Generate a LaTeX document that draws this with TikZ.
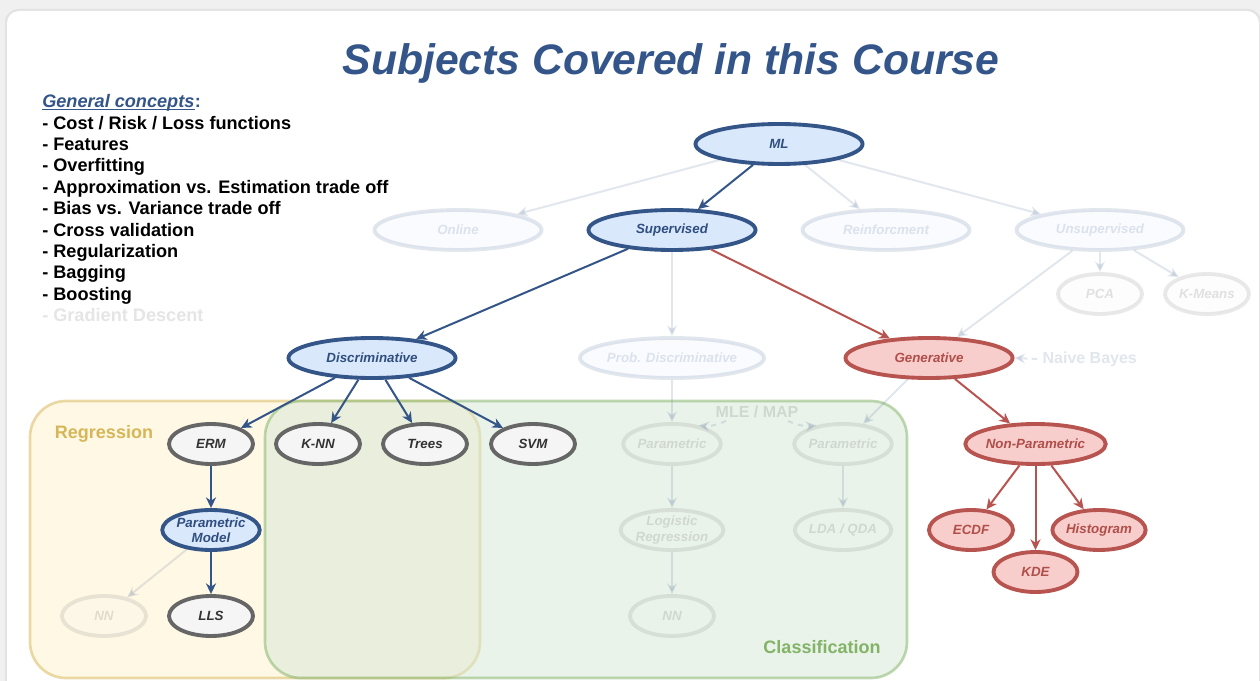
\documentclass[tikz,border=0pt]{standalone}
\usepackage{fontspec}
\setmainfont{Liberation Sans}
\usetikzlibrary{shapes.geometric,arrows.meta}
\definecolor{bstroke}{HTML}{345587}
\definecolor{bfill}{HTML}{DAE8FC}
\definecolor{btext}{HTML}{2F4F80}
\definecolor{rstroke}{HTML}{B85450}
\definecolor{rfill}{HTML}{F8CECC}
\definecolor{rtext}{HTML}{B04E4A}
\definecolor{gstroke}{HTML}{666666}
\definecolor{gfill}{HTML}{F5F5F5}
\definecolor{gtext}{HTML}{333333}
\definecolor{titleblue}{HTML}{335589}
\definecolor{yfill}{HTML}{FFF2CC}
\definecolor{ystroke}{HTML}{D6B656}
\definecolor{grfill}{HTML}{D5E8D4}
\definecolor{grstroke}{HTML}{82B366}
\definecolor{canvasgray}{HTML}{F0F0F0}
\definecolor{shadowgray}{HTML}{E2E2E2}
\tikzset{
  nd/.style={ellipse, inner sep=0pt, line width=2.9pt, align=center,
    font=\fontsize{10}{11.4}\selectfont\bfseries\itshape, minimum height=30pt},
  wide/.style={minimum width=125.3pt},
  narrow/.style={minimum width=63pt},
  bnode/.style={nd, draw=bstroke, fill=bfill, text=btext},
  rnode/.style={nd, draw=rstroke, fill=rfill, text=rtext},
  gnode/.style={nd, draw=gstroke, fill=gfill, text=gtext},
  faded/.style={opacity=0.14},
  tip/.style={-{Stealth[length=8pt,width=7.5pt,inset=2.5pt]}},
  bedge/.style={draw=bstroke, line width=1.5pt, tip},
  redge/.style={draw=rstroke, line width=1.5pt, tip},
  fedge/.style={draw=bstroke, line width=1.5pt, tip, opacity=0.14},
  listline/.style={anchor=base west, inner sep=0pt, font=\fontsize{13.6}{16}\selectfont\bfseries},
  region/.style={line width=2pt, rounded corners=27pt, fill opacity=0.5, draw opacity=0.5},
  reglabel/.style={inner sep=0pt, font=\fontsize{13.5}{16}\selectfont\bfseries}
}
\begin{document}
\begin{tikzpicture}[x=0.75pt,y=-0.75pt]
\useasboundingbox (0,0) rectangle (1260,681);
% canvas and card
\fill[canvasgray] (0,0) rectangle (1260,681);
\fill[shadowgray, rounded corners=10pt] (5,9) rectangle (1261,700);
\fill[white, rounded corners=9pt] (7,11) rectangle (1259,700);

% regions
\draw[region, draw=ystroke, fill=yfill] (30,401) rectangle (480,678);
\draw[region, draw=grstroke, fill=grfill] (265,401) rectangle (907,678);
\node[reglabel, text=ystroke] (reglab) at (104,434) {Regression};
\node[reglabel, text=grstroke] (clslab) at (822,647) {Classification};

% title
\node[inner sep=0pt, text=titleblue, font=\fontsize{32}{38}\selectfont\bfseries\itshape] (title) at (671,63) {Subjects Covered in this Course};

% general concepts
\node[listline, text=titleblue, font=\fontsize{13.6}{16}\selectfont\bfseries\itshape] (gc0) at (42,107.7) {General concepts};
\node[listline, text=titleblue] (gcc) at (gc0.base east) {:};
\draw[titleblue, line width=0.9pt] ([yshift=-1.3pt]gc0.base west) -- ([yshift=-1.3pt]gc0.base east);
\node[listline] (gc1) at (42,129.1) {- Cost / Risk / Loss functions};
\node[listline] (gc2) at (42,150.5) {- Features};
\node[listline] (gc3) at (42,171.9) {- Overfitting};
\node[listline] (gc4) at (42,193.3) {- Approximation vs. Estimation trade off};
\node[listline] (gc5) at (42,214.7) {- Bias vs. Variance trade off};
\node[listline] (gc6) at (42,236.1) {- Cross validation};
\node[listline] (gc7) at (42,257.5) {- Regularization};
\node[listline] (gc8) at (42,278.9) {- Bagging};
\node[listline] (gc9) at (42,300.3) {- Boosting};
\node[listline, text=black!10] (gc10) at (42,321.7) {- Gradient Descent};

% nodes
\node[bnode, wide] (ML) at (779,144) {ML};
\node[bnode, wide, faded] (Onl) at (458,230) {Online};
\node[bnode, wide] (Sup) at (672,230) {Supervised};
\node[bnode, wide, faded] (Rein) at (886,230) {Reinforcment};
\node[bnode, wide, faded] (Uns) at (1100,230) {Unsupervised};
\node[gnode, narrow, faded] (PCA) at (1100,294) {PCA};
\node[gnode, narrow, faded] (KM) at (1207,294) {K-Means};
\node[bnode, wide] (Disc) at (372,358) {Discriminative};
\node[bnode, wide, faded] (PD) at (672,358) {Prob. Discriminative};
\node[rnode, wide] (Gen) at (929,358) {Generative};
\node[gnode, narrow] (ERM) at (211,444) {ERM};
\node[gnode, narrow] (KNN) at (318,444) {K-NN};
\node[gnode, narrow] (Trees) at (425,444) {Trees};
\node[gnode, narrow] (SVM) at (533,444) {SVM};
\node[gnode, narrow, faded] (P1) at (672,444) {Parametric};
\node[gnode, narrow, faded] (P2) at (843,444) {Parametric};
\node[rnode, minimum width=94.5pt] (NP) at (1035.5,444) {Non-Parametric};
\node[bnode, narrow] (PM) at (211,530) {Parametric\\Model};
\node[gnode, narrow, faded] (LR) at (672,530) {Logistic\\Regression};
\node[gnode, narrow, faded] (LDA) at (843,530) {LDA / QDA};
\node[rnode, narrow] (ECDF) at (971,530) {ECDF};
\node[rnode, narrow] (Hist) at (1099,530) {Histogram};
\node[rnode, narrow] (KDE) at (1035.5,572) {KDE};
\node[gnode, narrow, faded] (NN1) at (104,616) {NN};
\node[gnode, narrow] (LLS) at (211,616) {LLS};
\node[gnode, narrow, faded] (NN2) at (672,616) {NN};

% side labels
\node[inner sep=0pt, text=gtext, opacity=0.14, font=\fontsize{12}{14}\selectfont\bfseries] (mle) at (757,412) {MLE / MAP};
\node[anchor=west, inner xsep=4pt, inner ysep=0pt, text=btext, opacity=0.14, font=\fontsize{12}{14}\selectfont\bfseries] (NB) at (1037,359) {Naive Bayes};

% edges
\draw[bedge] (ML) -- (Sup);
\draw[fedge] (ML) -- (Onl);
\draw[fedge] (ML) -- (Rein);
\draw[fedge] (ML) -- (Uns);
\draw[fedge] (Uns) -- (PCA);
\draw[fedge] (Uns) -- (KM);
\draw[fedge] (Uns) -- (Gen);
\draw[bedge] (Sup) -- (Disc);
\draw[fedge] (Sup) -- (PD);
\draw[redge] (Sup) -- (Gen);
\draw[bedge] (Disc) -- (ERM);
\draw[bedge] (Disc) -- (KNN);
\draw[bedge] (Disc) -- (Trees);
\draw[bedge] (Disc) -- (SVM);
\draw[fedge] (PD) -- (P1);
\draw[fedge] (Gen) -- (P2);
\draw[redge] (Gen) -- (NP);
\draw[redge] (NP) -- (ECDF);
\draw[redge] (NP) -- (KDE);
\draw[redge] (NP) -- (Hist);
\draw[bedge] (ERM) -- (PM);
\draw[bedge] (PM) -- (LLS);
\draw[fedge] (PM) -- (NN1);
\draw[fedge] (P1) -- (LR);
\draw[fedge] (LR) -- (NN2);
\draw[fedge] (P2) -- (LDA);
\draw[fedge, dash pattern=on 4pt off 4pt] ([xshift=8pt,yshift=-2pt]mle.south west) to[bend left=15] (P1.35);
\draw[fedge, dash pattern=on 4pt off 4pt] ([xshift=-8pt,yshift=-2pt]mle.south east) to[bend right=15] (P2.145);
\draw[fedge, dash pattern=on 4pt off 3pt] (NB.west) -- (Gen.east);
\end{tikzpicture}
\end{document}
